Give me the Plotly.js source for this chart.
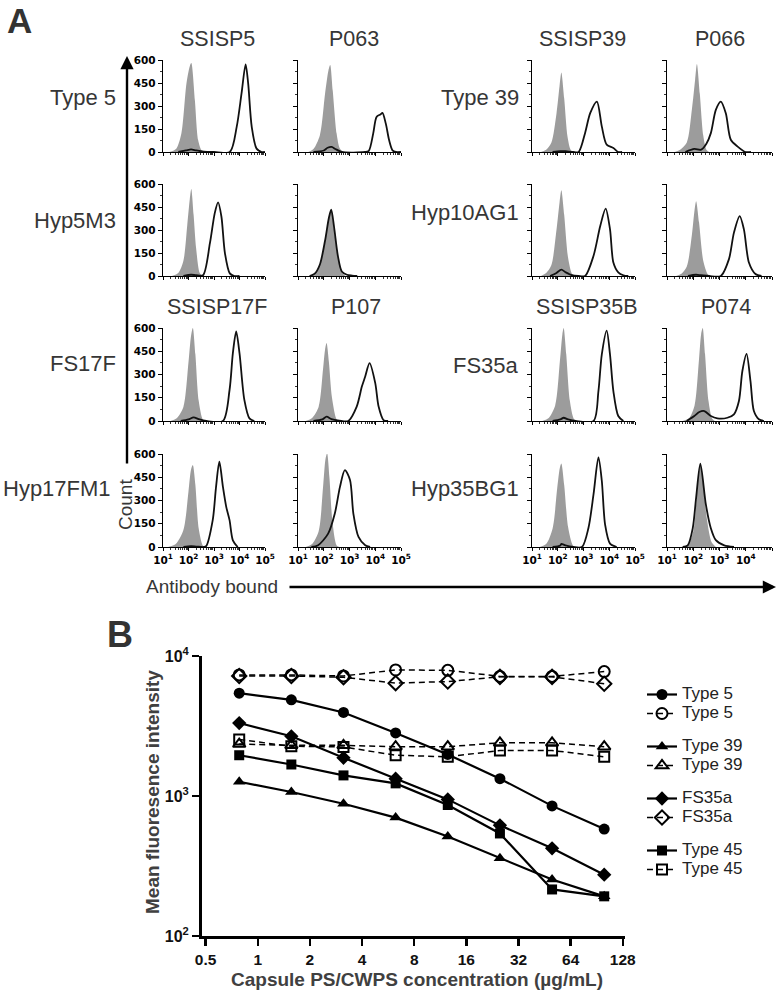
<!DOCTYPE html>
<html>
<head>
<meta charset="utf-8">
<script src="https://cdn.plot.ly/plotly-3.0.1.min.js"></script>
<style>html,body{margin:0;padding:0;background:#fff;}#chart{width:780px;height:994px;}</style>
</head>
<body>
<div id="chart"></div>
<script>
// ---------------- Panel A data (x = log10 fluorescence, y = count) ----------------
const colTitlesTop = ['SSISP5', 'P063', 'SSISP39', 'P066'];
const colTitlesBottom = ['SSISP17F', 'P107', 'SSISP35B', 'P074'];
const rowLabelsLeft = ['Type 5', 'Hyp5M3', 'FS17F', 'Hyp17FM1'];
const rowLabelsRight = ['Type 39', 'Hyp10AG1', 'FS35a', 'Hyp35BG1'];
const decadeVals = [10, 100, 1000, 10000, 100000];
const decadeText = ['10<sup>1</sup>', '10<sup>2</sup>', '10<sup>3</sup>', '10<sup>4</sup>', '10<sup>5</sup>'];
const countTicks = [0, 150, 300, 450, 600];

// Row 1
const t5_SSISP5_isoX = [1.25, 1.52, 1.72, 1.92, 2.05, 2.11, 2.25, 2.38, 2.51, 2.64];
const t5_SSISP5_isoY = [0, 22, 120, 447, 560, 580, 338, 76, 11, 0];
const t5_SSISP5_abX = [1.6, 1.9, 2.1, 2.3, 2.6, 3.0, 3.62, 3.89, 4.08, 4.24, 4.34, 4.48, 4.67, 4.87, 5.0];
const t5_SSISP5_abY = [0, 10, 17, 10, 2, 0, 0, 164, 382, 572, 447, 164, 22, 0, 0];

const t5_P063_isoX = [1.4, 1.6, 1.85, 2.05, 2.18, 2.25, 2.35, 2.5, 2.62, 2.75];
const t5_P063_isoY = [0, 20, 110, 380, 530, 567, 400, 120, 25, 0];
const t5_P063_abX = [1.6, 2.0, 2.15, 2.31, 2.45, 2.7, 3.6, 3.75, 3.92, 4.05, 4.2, 4.28, 4.41, 4.54, 4.67, 4.8, 5.0];
const t5_P063_abY = [0, 10, 28, 33, 20, 0, 0, 8, 120, 229, 245, 255, 185, 76, 11, 0, 0];

const t39_SSISP39_isoX = [1.35, 1.55, 1.75, 1.95, 2.07, 2.14, 2.25, 2.38, 2.5, 2.6];
const t39_SSISP39_isoY = [0, 15, 60, 250, 430, 518, 350, 100, 15, 0];
const t39_SSISP39_abX = [1.8, 2.1, 2.3, 2.6, 2.81, 3.06, 3.26, 3.52, 3.71, 3.9, 4.16, 4.35, 4.5];
const t39_SSISP39_abY = [0, 6, 5, 0, 0, 123, 253, 329, 167, 48, 26, 0, 0];

const t39_P066_isoX = [1.3, 1.5, 1.75, 1.95, 2.07, 2.14, 2.25, 2.38, 2.5, 2.6];
const t39_P066_isoY = [0, 15, 60, 280, 470, 574, 380, 110, 15, 0];
const t39_P066_abX = [1.7, 2.04, 2.3, 2.5, 2.67, 2.86, 3.05, 3.24, 3.43, 3.68, 3.99, 4.2];
const t39_P066_abY = [0, 20, 15, 54, 123, 275, 329, 253, 80, 37, 0, 0];

// Row 2
const h5_SSISP5_isoX = [1.35, 1.6, 1.8, 1.95, 2.05, 2.11, 2.2, 2.3, 2.44, 2.55];
const h5_SSISP5_isoY = [0, 20, 100, 330, 500, 567, 400, 180, 20, 0];
const h5_SSISP5_abX = [1.8, 2.1, 2.3, 2.57, 2.84, 3.03, 3.16, 3.29, 3.43, 3.62, 3.8, 4.0];
const h5_SSISP5_abY = [0, 8, 5, 5, 214, 410, 480, 388, 148, 17, 0, 0];

const h5_P063_isoX = [1.45, 1.65, 1.85, 2.05, 2.2, 2.29, 2.4, 2.55, 2.7, 2.84];
const h5_P063_isoY = [0, 15, 70, 220, 370, 420, 300, 120, 25, 0];
const h5_P063_abX = [1.45, 1.65, 1.85, 2.05, 2.2, 2.29, 2.4, 2.55, 2.7, 2.9, 3.1, 3.3];
const h5_P063_abY = [0, 15, 75, 230, 380, 432, 320, 130, 30, 8, 3, 0];

const h10_SSISP39_isoX = [1.35, 1.55, 1.75, 1.95, 2.07, 2.14, 2.25, 2.4, 2.55, 2.65];
const h10_SSISP39_isoY = [0, 20, 70, 300, 480, 559, 400, 120, 15, 0];
const h10_SSISP39_abX = [1.7, 1.95, 2.14, 2.3, 2.55, 2.8, 3.06, 3.39, 3.65, 3.86, 4.03, 4.16, 4.35, 4.55, 4.74];
const h10_SSISP39_abY = [0, 20, 41, 25, 5, 0, 0, 132, 326, 440, 304, 88, 24, 5, 0];

const h10_P066_isoX = [1.35, 1.55, 1.75, 1.95, 2.05, 2.11, 2.22, 2.38, 2.55, 2.65];
const h10_P066_isoY = [0, 15, 60, 270, 430, 488, 350, 100, 12, 0];
const h10_P066_abX = [1.8, 2.1, 2.3, 2.6, 3.05, 3.36, 3.55, 3.77, 3.93, 4.12, 4.37, 4.6];
const h10_P066_abY = [0, 8, 5, 0, 0, 110, 283, 391, 304, 88, 13, 0];

// Row 3
const fs17_SSISP17F_isoX = [1.3, 1.55, 1.8, 2.0, 2.1, 2.17, 2.27, 2.4, 2.56, 2.65];
const fs17_SSISP17F_isoY = [0, 20, 90, 380, 550, 600, 430, 130, 10, 0];
const fs17_SSISP17F_abX = [1.7, 2.0, 2.2, 2.4, 2.7, 3.35, 3.61, 3.74, 3.87, 4.0, 4.19, 4.39, 4.58];
const fs17_SSISP17F_abY = [0, 10, 24, 12, 0, 0, 200, 438, 578, 438, 136, 17, 0];

const fs17_P107_isoX = [1.3, 1.55, 1.8, 1.97, 2.05, 2.11, 2.2, 2.32, 2.5, 2.6];
const fs17_P107_isoY = [0, 20, 90, 330, 460, 503, 380, 150, 10, 0];
const fs17_P107_abX = [1.6, 1.95, 2.11, 2.3, 2.6, 2.95, 3.28, 3.48, 3.61, 3.78, 4.0, 4.13, 4.32, 4.5];
const fs17_P107_abY = [0, 10, 28, 12, 3, 0, 93, 222, 287, 373, 244, 93, 6, 0];

const fs35_SSISP35B_isoX = [1.4, 1.65, 1.9, 2.08, 2.18, 2.23, 2.33, 2.47, 2.62, 2.72];
const fs35_SSISP35B_isoY = [0, 20, 100, 380, 560, 600, 430, 130, 15, 0];
const fs35_SSISP35B_abX = [1.8, 2.1, 2.23, 2.4, 2.7, 3.39, 3.58, 3.71, 3.9, 4.03, 4.16, 4.35, 4.55];
const fs35_SSISP35B_abY = [0, 10, 21, 10, 0, 0, 193, 428, 583, 428, 193, 32, 0];

const fs35_P074_isoX = [1.6, 1.85, 2.05, 2.22, 2.3, 2.36, 2.45, 2.58, 2.72, 2.82];
const fs35_P074_isoY = [0, 20, 100, 400, 560, 600, 430, 130, 15, 0];
const fs35_P074_abX = [1.75, 2.04, 2.23, 2.42, 2.67, 2.92, 3.3, 3.55, 3.74, 3.87, 4.03, 4.18, 4.31, 4.5, 4.69];
const fs35_P074_abY = [0, 32, 58, 64, 32, 17, 21, 43, 129, 321, 433, 257, 64, 11, 0];

// Row 4
const h17_SSISP17F_isoX = [1.2, 1.5, 1.8, 2.0, 2.1, 2.17, 2.27, 2.4, 2.56, 2.65];
const h17_SSISP17F_isoY = [0, 20, 110, 360, 500, 529, 400, 120, 10, 0];
const h17_SSISP17F_abX = [1.8, 2.1, 2.3, 2.6, 2.69, 2.95, 3.08, 3.21, 3.35, 3.48, 3.61, 3.74, 3.93];
const h17_SSISP17F_abY = [0, 5, 3, 0, 5, 173, 388, 550, 388, 259, 173, 43, 0];

const h17_P107_isoX = [1.3, 1.55, 1.8, 1.97, 2.07, 2.13, 2.22, 2.34, 2.5, 2.6];
const h17_P107_isoY = [0, 20, 100, 380, 570, 604, 450, 160, 10, 0];
const h17_P107_abX = [1.52, 1.78, 2.17, 2.43, 2.63, 2.82, 3.02, 3.15, 3.35, 3.61, 3.8];
const h17_P107_abY = [0, 11, 86, 216, 388, 496, 432, 216, 65, 11, 0];

const h35_SSISP35B_isoX = [1.3, 1.55, 1.8, 1.98, 2.08, 2.14, 2.25, 2.4, 2.58, 2.68];
const h35_SSISP35B_isoY = [0, 20, 120, 380, 510, 538, 400, 130, 12, 0];
const h35_SSISP35B_abX = [1.8, 2.1, 2.14, 2.3, 2.6, 2.94, 3.19, 3.39, 3.58, 3.71, 3.84, 4.03, 4.29];
const h35_SSISP35B_abY = [0, 10, 20, 10, 0, 0, 121, 341, 578, 429, 143, 22, 0];

const h35_P074_isoX = [1.54, 1.8, 2.0, 2.15, 2.22, 2.27, 2.38, 2.52, 2.7, 2.86];
const h35_P074_isoY = [0, 15, 100, 360, 490, 527, 400, 180, 30, 0];
const h35_P074_abX = [1.6, 1.79, 1.98, 2.11, 2.27, 2.48, 2.67, 2.86, 3.18, 3.55];
const h35_P074_abY = [0, 11, 121, 319, 538, 275, 121, 44, 11, 0];

// ---------------- Panel B data ----------------
const conc = [0.78125, 1.5625, 3.125, 6.25, 12.5, 25, 50, 100];
const concTicks = [0.5, 1, 2, 4, 8, 16, 32, 64, 128];
const concTickText = ['0.5', '1', '2', '4', '8', '16', '32', '64', '128'];
const mfiTicks = [100, 1000, 10000];
const mfiTickText = ['10<sup>2</sup>', '10<sup>3</sup>', '10<sup>4</sup>'];
const type5_filled = [5430, 4860, 3950, 2820, 1980, 1330, 850, 580];
const type5_open = [7330, 7330, 7200, 7950, 7900, 7150, 7150, 7740];
const type39_filled = [1264, 1068, 881, 701, 514, 359, 253, 192];
const type39_open = [2350, 2300, 2300, 2250, 2250, 2400, 2400, 2250];
const fs35a_filled = [3320, 2670, 1875, 1330, 946, 617, 423, 274];
const fs35a_open = [7200, 7200, 7050, 6400, 6570, 7100, 7100, 6340];
const type45_filled = [1955, 1679, 1403, 1231, 862, 540, 215, 192];
const type45_open = [2530, 2266, 2240, 1955, 1905, 2115, 2115, 1905];

// ---------------- Build ----------------
const W = 780, H = 994;
const px = v => v / W;
const py = v => 1 - v / H;
const SANS = 'Liberation Sans, Arial, sans-serif';
const TICKF = 'DejaVu Sans, Verdana, sans-serif';
const TXT = '#363636';
const GRAY = '#9c9c9c';

const panels = [
  [t5_SSISP5_isoX, t5_SSISP5_isoY, t5_SSISP5_abX, t5_SSISP5_abY],
  [t5_P063_isoX, t5_P063_isoY, t5_P063_abX, t5_P063_abY],
  [t39_SSISP39_isoX, t39_SSISP39_isoY, t39_SSISP39_abX, t39_SSISP39_abY],
  [t39_P066_isoX, t39_P066_isoY, t39_P066_abX, t39_P066_abY],
  [h5_SSISP5_isoX, h5_SSISP5_isoY, h5_SSISP5_abX, h5_SSISP5_abY],
  [h5_P063_isoX, h5_P063_isoY, h5_P063_abX, h5_P063_abY],
  [h10_SSISP39_isoX, h10_SSISP39_isoY, h10_SSISP39_abX, h10_SSISP39_abY],
  [h10_P066_isoX, h10_P066_isoY, h10_P066_abX, h10_P066_abY],
  [fs17_SSISP17F_isoX, fs17_SSISP17F_isoY, fs17_SSISP17F_abX, fs17_SSISP17F_abY],
  [fs17_P107_isoX, fs17_P107_isoY, fs17_P107_abX, fs17_P107_abY],
  [fs35_SSISP35B_isoX, fs35_SSISP35B_isoY, fs35_SSISP35B_abX, fs35_SSISP35B_abY],
  [fs35_P074_isoX, fs35_P074_isoY, fs35_P074_abX, fs35_P074_abY],
  [h17_SSISP17F_isoX, h17_SSISP17F_isoY, h17_SSISP17F_abX, h17_SSISP17F_abY],
  [h17_P107_isoX, h17_P107_isoY, h17_P107_abX, h17_P107_abY],
  [h35_SSISP35B_isoX, h35_SSISP35B_isoY, h35_SSISP35B_abX, h35_SSISP35B_abY],
  [h35_P074_isoX, h35_P074_isoY, h35_P074_abX, h35_P074_abY]
];

const colX = [[163, 265], [298, 401], [532, 635], [667, 772]];
const rowY = [[60, 152], [184, 276], [328, 421], [454, 547]];

const data = [];
const layout = {
  width: W, height: H,
  margin: {l: 0, r: 0, t: 0, b: 0},
  paper_bgcolor: '#fff', plot_bgcolor: 'rgba(0,0,0,0)',
  showlegend: true,
  font: {family: SANS, color: TXT},
  annotations: [],
  legend: {
    x: px(642), y: py(680), xanchor: 'left', yanchor: 'top',
    font: {size: 12, family: SANS, color: '#222'},
    tracegroupgap: 14, bgcolor: 'rgba(0,0,0,0)', itemwidth: 30
  }
};

panels.forEach((p, i) => {
  const r = Math.floor(i / 4), c = i % 4, n = i + 1;
  const xa = 'x' + n, ya = 'y' + n;
  data.push({
    x: p[0].map(v => Math.pow(10, v)), y: p[1], xaxis: xa, yaxis: ya,
    type: 'scatter', mode: 'lines', fill: 'tozeroy', fillcolor: GRAY,
    line: {width: 0, color: GRAY, shape: 'spline', smoothing: 0.8},
    showlegend: false, hoverinfo: 'skip'
  });
  data.push({
    x: p[2].map(v => Math.pow(10, v)), y: p[3], xaxis: xa, yaxis: ya,
    type: 'scatter', mode: 'lines',
    line: {width: 1.8, color: '#111', shape: 'spline', smoothing: 0.8},
    showlegend: false, hoverinfo: 'skip'
  });
  layout['xaxis' + n] = {
    domain: [px(colX[c][0]), px(colX[c][1])], anchor: ya,
    type: 'log', range: [1, 5], showgrid: false, zeroline: false,
    showline: true, linecolor: '#000', linewidth: 1.3,
    ticks: 'outside', ticklen: 3, tickwidth: 1, tickcolor: '#000',
    tickmode: 'array', tickvals: decadeVals, ticktext: decadeText,
    showticklabels: r === 3,
    tickfont: {family: TICKF, size: 10.5, color: '#000', weight: 700},
    minor: {ticks: 'outside', ticklen: 2, tickwidth: 0.8, tickcolor: '#000', dtick: 'D1'}
  };
  layout['yaxis' + n] = {
    domain: [py(rowY[r][1]), py(rowY[r][0])], anchor: xa,
    range: [0, 600], showgrid: false, zeroline: false,
    showline: true, linecolor: '#000', linewidth: 1.3,
    ticks: 'outside', ticklen: 4, tickwidth: 1, tickcolor: '#000',
    tickmode: 'array', tickvals: countTicks,
    showticklabels: c === 0,
    tickfont: {family: TICKF, size: 10.5, color: '#000', weight: 700},
    minor: {ticks: 'outside', ticklen: 2, tickwidth: 0.8, tickcolor: '#000', dtick: 75, tick0: 0}
  };
});

// Panel A texts
const ann = layout.annotations;
function txt(t, x, y, size, opts) {
  ann.push(Object.assign({
    text: t, x: px(x), y: py(y), xref: 'paper', yref: 'paper',
    showarrow: false, xanchor: 'center', yanchor: 'middle',
    font: {family: SANS, size: size, color: TXT}
  }, opts || {}));
}
txt('<b>A</b>', 19, 21, 35, {font: {family: SANS, size: 35, color: '#333'}});
txt('<b>B</b>', 120, 634, 36, {font: {family: SANS, size: 36, color: '#333'}});

const topCenters = [217, 354, 582, 720];
const botCenters = [217, 356, 587, 726];
colTitlesTop.forEach((t, k) => txt(t, topCenters[k], 39, 21.5));
colTitlesBottom.forEach((t, k) => txt(t, botCenters[k], 307, 21.5));
const rowCenters = [97, 221, 363, 488];
const rowCentersR = [98, 212, 365, 488];
const leftEdges = [118, 118, 118, 113];
rowLabelsLeft.forEach((t, k) => txt(t, leftEdges[k], rowCenters[k], 22, {xanchor: 'right'}));
rowLabelsRight.forEach((t, k) => txt(t, 521, rowCentersR[k], 22, {xanchor: 'right'}));
txt('Count', 125, 505, 19, {textangle: -90});
txt('Antibody bound', 212, 586, 19);

// arrows
ann.push({x: px(127), y: py(56), xref: 'paper', yref: 'paper', ax: 0, ay: 409,
  text: '', showarrow: true, arrowhead: 2, arrowsize: 1.1, arrowwidth: 2.4, arrowcolor: '#000', standoff: 0, startstandoff: 0});
ann.push({x: px(776), y: py(587), xref: 'paper', yref: 'paper', ax: -488, ay: 0,
  text: '', showarrow: true, arrowhead: 2, arrowsize: 1.1, arrowwidth: 2.4, arrowcolor: '#000', standoff: 0, startstandoff: 0});

// Panel B axis titles
txt('<b>Mean fluoresence intensity</b>', 152, 792, 19, {textangle: -90, font: {family: SANS, size: 19, color: '#404040'}});
txt('<b>Capsule PS/CWPS concentration (µg/mL)</b>', 417, 979, 19, {font: {family: SANS, size: 19, color: '#404040'}});

// Panel B axes
layout.xaxis17 = {
  domain: [px(202), px(625)], anchor: 'y17', type: 'log',
  range: [-0.322, 2.12], showgrid: false, zeroline: false,
  showline: true, linecolor: '#000', linewidth: 3,
  ticks: 'outside', ticklen: 7, tickwidth: 2.5, tickcolor: '#000',
  tickmode: 'array', tickvals: concTicks, ticktext: concTickText,
  tickfont: {family: SANS, size: 15.5, color: '#111', weight: 700}
};
layout.yaxis17 = {
  domain: [py(936), py(656)], anchor: 'x17', type: 'log',
  range: [2, 4], showgrid: false, zeroline: false,
  showline: true, linecolor: '#000', linewidth: 3,
  ticks: 'outside', ticklen: 7, tickwidth: 2.5, tickcolor: '#000',
  tickmode: 'array', tickvals: mfiTicks, ticktext: mfiTickText,
  tickfont: {family: SANS, size: 16, color: '#111', weight: 700}
};

function nm(t) { return '<span style="font-size:17px">' + t + '</span>'; }
const seriesB = [
  {y: type5_filled, name: 'Type 5', sym: 'circle', open: false, g: 'g1', size: 11},
  {y: type5_open, name: 'Type 5', sym: 'circle-open', open: true, g: 'g1', size: 11},
  {y: type39_filled, name: 'Type 39', sym: 'triangle-up', open: false, g: 'g2', size: 11},
  {y: type39_open, name: 'Type 39', sym: 'triangle-up-open', open: true, g: 'g2', size: 11},
  {y: fs35a_filled, name: 'FS35a', sym: 'diamond', open: false, g: 'g3', size: 11},
  {y: fs35a_open, name: 'FS35a', sym: 'diamond-open', open: true, g: 'g3', size: 11},
  {y: type45_filled, name: 'Type 45', sym: 'square', open: false, g: 'g4', size: 10},
  {y: type45_open, name: 'Type 45', sym: 'square-open', open: true, g: 'g4', size: 10}
];
seriesB.forEach(s => {
  data.push({
    x: conc, y: s.y, name: nm(s.name), legendgroup: s.g,
    xaxis: 'x17', yaxis: 'y17', type: 'scatter', mode: 'lines+markers',
    line: {color: '#000', width: s.open ? 1.5 : 2.2, dash: s.open ? '6px,4px' : 'solid'},
    marker: {symbol: s.sym, size: s.size, color: '#000', line: {color: '#000', width: s.open ? 2 : 0}},
    cliponaxis: false
  });
});

Plotly.newPlot('chart', data, layout, {staticPlot: true, displayModeBar: false});
</script>
</body>
</html>
